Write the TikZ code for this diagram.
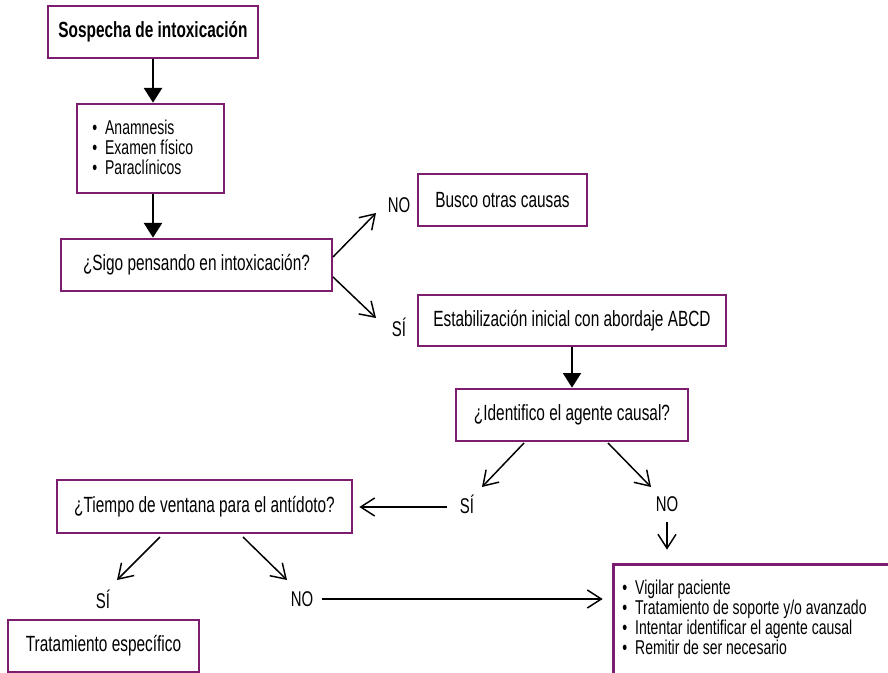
\documentclass[tikz,border=0pt]{standalone}
\usepackage{fontspec}
\setmainfont[FakeStretch=0.7]{Liberation Sans}
\usetikzlibrary{arrows.meta}
\definecolor{boxpurple}{HTML}{7D1D6F}
\begin{document}
\begin{tikzpicture}[x=0.75pt,y=-0.75pt,
  box/.style={draw=boxpurple,line width=2pt,inner sep=0pt,fill=white,
    font=\fontsize{16.5}{19}\selectfont},
  lbl/.style={font=\fontsize{16}{19}\selectfont,inner sep=0pt},
  listtxt/.style={font=\fontsize{15}{15}\selectfont,inner sep=0pt,align=left},
  thickarrow/.style={line width=1.5pt,-{Triangle[length=11pt,width=13.5pt]}},
  thinarrow/.style={line width=1.1pt,-{Straight Barb[length=10.5pt,width=13.5pt]}},
  thinline/.style={line width=1.1pt}]
\useasboundingbox (0,0) rectangle (888,673);
\fill[white] (0,0) rectangle (888,673);
\clip (0,0) rectangle (888,673);

% boxes
\node[box, minimum width=157.5pt, minimum height=39pt] (b1) at (153,32) {\bfseries Sospecha de intoxicación};
\node[box, minimum width=110.25pt, minimum height=66.75pt] (b2) at (150.5,148.5) {};
\node[listtxt, anchor=west] (b2t) at (92,147)
  {\textbullet\hspace{6pt}Anamnesis\\ \textbullet\hspace{6pt}Examen físico\\ \textbullet\hspace{6pt}Paraclínicos};
\node[box, minimum width=203.25pt, minimum height=39pt] (b3) at (196.5,265) {¿Sigo pensando en intoxicación?};
\node[box, minimum width=126.75pt, minimum height=39pt] (b4) at (502.5,200) {Busco otras causas};
\node[box, minimum width=231pt, minimum height=38.25pt] (b5) at (572,320.5) {Estabilización inicial con abordaje ABCD};
\node[box, minimum width=174pt, minimum height=39pt] (b6) at (572,415) {¿Identifico el agente causal?};
\node[box, minimum width=221.25pt, minimum height=39.75pt] (b7) at (204.5,506.5) {¿Tiempo de ventana para el antídoto?};
\node[box, minimum width=143.25pt, minimum height=39pt] (b8) at (103.5,646) {Tratamiento específico};
\node[box, minimum width=216pt, minimum height=112.5pt, anchor=north west] (b9) at (612,563) {};
\node[listtxt, anchor=west] (b9t) at (622,617.5)
  {\textbullet\hspace{6pt}Vigilar paciente\\ \textbullet\hspace{6pt}Tratamiento de soporte y/o avanzado\\
   \textbullet\hspace{6pt}Intentar identificar el agente causal\\ \textbullet\hspace{6pt}Remitir de ser necesario};

% labels
\node[lbl] (no1) at (399,205) {NO};
\node[lbl] (si1) at (399,327) {SÍ};
\node[lbl] (si2) at (467,504) {SÍ};
\node[lbl] (no2) at (667,504) {NO};
\node[lbl] (si3) at (103,599) {SÍ};
\node[lbl] (no3) at (302,599) {NO};

% connector end points
\coordinate (c1a) at (333,257); \coordinate (c1b) at (376,213);
\coordinate (c2a) at (333,277); \coordinate (c2b) at (376,318);
\coordinate (c3a) at (524,443); \coordinate (c3b) at (482,487);
\coordinate (c4a) at (608,443); \coordinate (c4b) at (651,487);
\coordinate (c5a) at (160,537); \coordinate (c5b) at (117,580);
\coordinate (c6a) at (243,537); \coordinate (c6b) at (287,580);
\coordinate (c7a) at (447,507);
\coordinate (c8a) at (322,599);

% connectors
\draw[thickarrow] (b1.south) -- (b1.south |- b2.north);
\draw[thickarrow] (b1.south |- b2.south) -- (b1.south |- b3.north);
\draw[thickarrow] (b5.south) -- (b6.north);
\draw[thinarrow] (c1a) -- (c1b);
\draw[thinarrow] (c2a) -- (c2b);
\draw[thinarrow] (c3a) -- (c3b);
\draw[thinarrow] (c4a) -- (c4b);
\draw[thinarrow] (c5a) -- (c5b);
\draw[thinarrow] (c6a) -- (c6b);
\draw[thinarrow] (c7a) -- ([xshift=4.5pt]b7.east |- c7a);
\draw[thinarrow] ([yshift=-8pt]no2.south) -- ([yshift=10pt]no2.south |- b9.north);
\draw[thinarrow] (c8a) -- ([xshift=-7pt]b9.west |- c8a);
\end{tikzpicture}
\end{document}
